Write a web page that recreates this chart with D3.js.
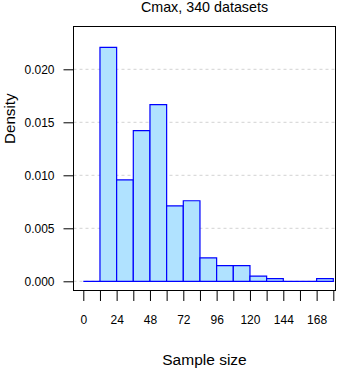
<!DOCTYPE html>
<html><head><meta charset="utf-8">
<script src="https://cdn.jsdelivr.net/npm/d3@7"></script>
<style>
html,body{margin:0;padding:0;background:#fff;}
svg text{font-family:"Liberation Sans",Arial,sans-serif;fill:#000;}
</style></head>
<body>
<svg id="chart" width="338" height="368"></svg>
<script>
// ---- data ----
const binStarts = [0, 12, 24, 36, 48, 60, 72, 84, 96, 108, 120, 132, 144, 156, 168];
const binWidth = 12;
const densities = [0, 0.02206, 0.00956, 0.01422, 0.01667, 0.00711, 0.00760, 0.00221, 0.00147, 0.00147, 0.00049, 0.00025, 0, 0, 0.00025];
const xTickValues = [0, 12, 24, 36, 48, 60, 72, 84, 96, 108, 120, 132, 144, 156, 168, 180];
const xTickLabels = ["0", "24", "48", "72", "96", "120", "144", "168"];
const yTickValues = [0, 0.005, 0.010, 0.015, 0.020];
const yTickLabels = ["0.000", "0.005", "0.010", "0.015", "0.020"];
const titleText = "Cmax, 340 datasets";
const xLabel = "Sample size";
const yLabel = "Density";

// ---- layout ----
const box = {left: 73.5, right: 335.5, top: 26.5, bottom: 290.5};
const svg = d3.select("#chart");

const x = d3.scaleLinear().domain([0, 180]).range([83.3, 333.3]);
const y = d3.scaleLinear().domain([0, 0.020]).range([281.3, 69.3]);

// grid
svg.append("g").selectAll("line").data(yTickValues).join("line")
  .attr("x1", box.left).attr("x2", box.right)
  .attr("y1", d => y(d)).attr("y2", d => y(d))
  .attr("stroke", "#d3d3d3").attr("stroke-width", 1)
  .attr("stroke-dasharray", "3,3");

// bars
svg.append("g").selectAll("path").data(binStarts).join("path")
  .attr("d", (d, i) => {
    const p = d3.path();
    const x0 = x(d), x1 = x(d + binWidth), y0 = y(0), y1 = y(densities[i]);
    p.moveTo(x0, y0); p.lineTo(x0, y1); p.lineTo(x1, y1); p.lineTo(x1, y0); p.closePath();
    return p.toString();
  })
  .attr("fill", "#b0e2ff").attr("stroke", "#0000ff").attr("stroke-width", 1.2)
  .attr("stroke-linejoin", "miter");

// box
svg.append("rect").attr("x", box.left).attr("y", box.top)
  .attr("width", box.right - box.left).attr("height", box.bottom - box.top)
  .attr("fill", "none").attr("stroke", "#000").attr("stroke-width", 1);

// x axis
const xAxis = d3.axisBottom(x).tickValues(xTickValues).tickSize(10).tickPadding(14)
  .tickFormat(d => (d % 24 === 0 ? xTickLabels[d / 24] : ""));
const gx = svg.append("g").attr("transform", `translate(0,${box.bottom + 0.5})`).call(xAxis);
gx.select(".domain").remove();
gx.selectAll(".tick line").attr("stroke", "#000");
gx.selectAll(".tick text").attr("font-size", 12).attr("fill", "#000");

// y axis
const yAxis = d3.axisLeft(y).tickValues(yTickValues).tickSize(10).tickPadding(9)
  .tickFormat((d, i) => yTickLabels[i]);
const gy = svg.append("g").attr("transform", `translate(${box.left},0)`).call(yAxis);
gy.select(".domain").remove();
gy.selectAll(".tick line").attr("stroke", "#000");
gy.selectAll(".tick text").attr("font-size", 12).attr("fill", "#000");

// title & labels
svg.append("text").attr("x", 204.5).attr("y", 11.5).attr("text-anchor", "middle")
  .attr("font-size", 14.3).text(titleText);
svg.append("text").attr("x", 204.5).attr("y", 364.5).attr("text-anchor", "middle")
  .attr("font-size", 15.5).text(xLabel);
svg.append("text").attr("transform", "translate(15,118.7) rotate(-90)")
  .attr("text-anchor", "middle").attr("font-size", 15.2).text(yLabel);
</script>
</body></html>
